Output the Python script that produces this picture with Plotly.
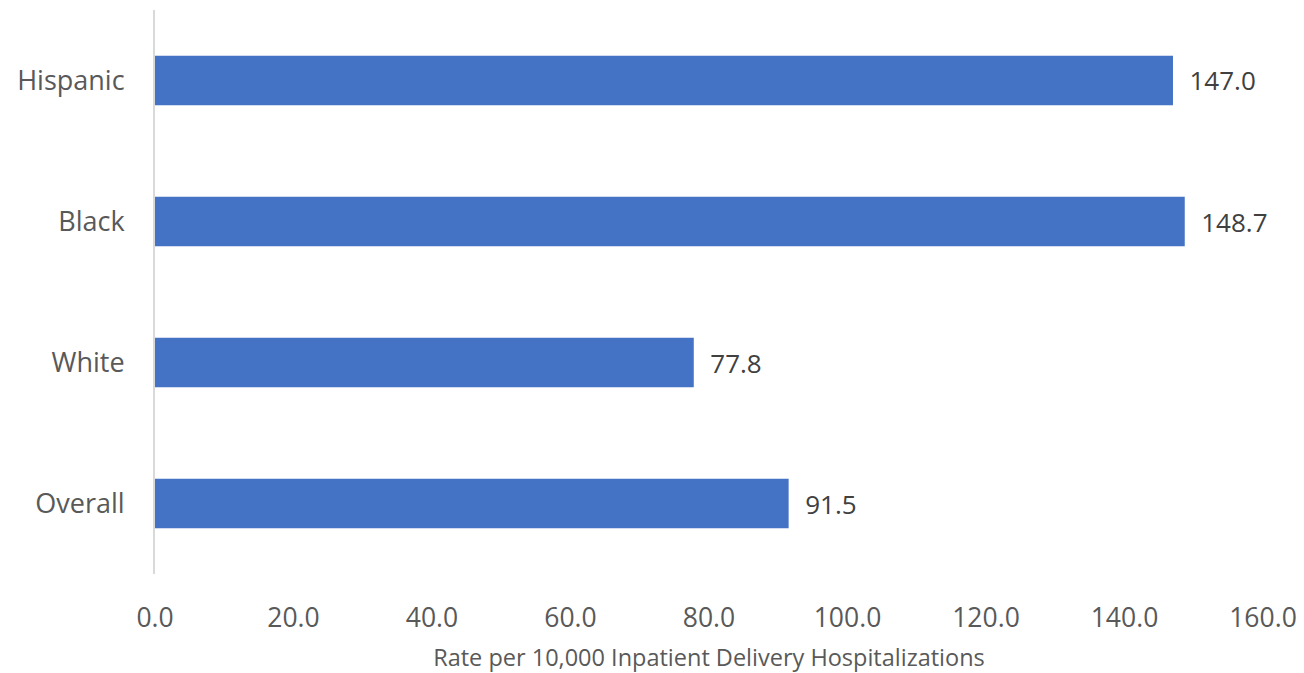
import plotly.graph_objects as go

# Severe maternal morbidity rate by race/ethnicity
groups = ["Overall", "White", "Black", "Hispanic"]
rates = [91.5, 77.8, 148.7, 147.0]
x_ticks = [0, 20, 40, 60, 80, 100, 120, 140, 160]
x_tick_text = ["0.0", "20.0", "40.0", "60.0", "80.0", "100.0", "120.0", "140.0", "160.0"]

FONT = "'Open Sans', 'Noto Sans', sans-serif"

fig = go.Figure(
    go.Bar(
        x=rates,
        y=groups,
        orientation="h",
        marker=dict(color="#4472C4", line=dict(width=0)),
        text=[f"{v:.1f}" for v in rates],
        texttemplate="  %{text}",
        textposition="outside",
        cliponaxis=False,
        textfont=dict(family=FONT, size=26, color="#404040"),
        hoverinfo="skip",
    )
)

fig.update_layout(
    width=1304,
    height=673,
    margin=dict(l=155, r=41, t=10, b=99),
    plot_bgcolor="white",
    paper_bgcolor="white",
    bargap=0.65,
    showlegend=False,
    font=dict(family=FONT, color="#595959"),
)

fig.update_xaxes(
    range=[0, 160],
    tickvals=x_ticks,
    ticktext=x_tick_text,
    showgrid=False,
    zeroline=False,
    showline=False,
    ticks="",
    automargin=False,
    ticklabelstandoff=25,
    tickfont=dict(family=FONT, size=26.5, color="#595959"),
    title=dict(
        text="Rate per 10,000 Inpatient Delivery Hospitalizations",
        font=dict(family=FONT, size=23.5, color="#595959"),
        standoff=18,
    ),
)

fig.update_yaxes(
    showgrid=False,
    zeroline=False,
    showline=True,
    linecolor="#d9d9d9",
    linewidth=2,
    ticks="",
    automargin=False,
    ticklabelstandoff=23,
    tickfont=dict(family=FONT, size=27, color="#595959"),
)

fig.write_html("out.html")
